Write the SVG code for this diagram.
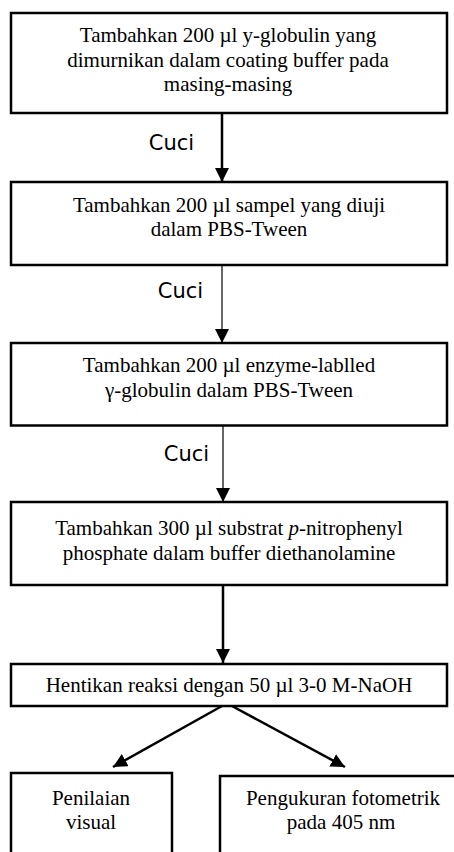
<svg xmlns="http://www.w3.org/2000/svg" width="454" height="852" viewBox="0 0 454 852">
  <defs>
    <marker id="ah" viewBox="0 0 14 14" refX="14" refY="7" markerWidth="14" markerHeight="14" markerUnits="userSpaceOnUse" orient="auto">
      <path d="M0,0 L14,7 L0,14 z" fill="#000"/>
    </marker>
    <style>
      .box { fill: #fff; stroke: #000; stroke-width: 2.5; }
      .t { font-family: "Liberation Serif", "Times New Roman", serif; font-size: 21px; fill: #000; text-anchor: middle; }
      .lbl { font-family: "DejaVu Sans", Verdana, sans-serif; font-size: 21px; fill: #000; text-anchor: middle; }
      .thick { stroke: #000; stroke-width: 2.5; fill: none; marker-end: url(#ah); }
      .thin { stroke: #000; stroke-width: 1.2; fill: none; marker-end: url(#ah); }
    </style>
  </defs>
  <rect width="454" height="852" fill="#fff"/>

  <g id="connectors">
    <line class="thick" x1="222" y1="113" x2="222" y2="182"/>
    <line class="thin" x1="222" y1="265" x2="222" y2="343"/>
    <line class="thin" x1="223" y1="425.5" x2="223" y2="502"/>
    <line class="thick" x1="223" y1="585" x2="223" y2="663"/>
    <line class="thick" x1="222" y1="706" x2="113" y2="767"/>
    <line class="thick" x1="232" y1="706" x2="345" y2="767"/>
    <text class="lbl" x="171.5" y="150">Cuci</text>
    <text class="lbl" x="180.5" y="298">Cuci</text>
    <text class="lbl" x="186.5" y="461">Cuci</text>
  </g>

  <g id="node1">
    <rect class="box" x="11" y="13" width="436" height="100"/>
    <text class="t" x="228" y="42">Tambahkan 200 µl y-globulin yang</text>
    <text class="t" x="228" y="66.5">dimurnikan dalam coating buffer pada</text>
    <text class="t" x="228" y="91">masing-masing</text>
  </g>

  <g id="node2">
    <rect class="box" x="11" y="182" width="436" height="83"/>
    <text class="t" x="229" y="212">Tambahkan 200 µl sampel yang diuji</text>
    <text class="t" x="229" y="236">dalam PBS-Tween</text>
  </g>

  <g id="node3">
    <rect class="box" x="11" y="343" width="436" height="82.5"/>
    <text class="t" x="229" y="372">Tambahkan 200 µl enzyme-lablled</text>
    <text class="t" x="229" y="397">γ-globulin dalam PBS-Tween</text>
  </g>

  <g id="node4">
    <rect class="box" x="11" y="502" width="436" height="83"/>
    <text class="t" x="229" y="535">Tambahkan 300 µl substrat <tspan font-style="italic">p</tspan>-nitrophenyl</text>
    <text class="t" x="229" y="560">phosphate dalam buffer diethanolamine</text>
  </g>

  <g id="node5">
    <rect class="box" x="11" y="664" width="436" height="42"/>
    <text class="t" x="229" y="692">Hentikan reaksi dengan 50 µl 3-0 M-NaOH</text>
  </g>

  <g id="node6">
    <rect class="box" x="11" y="773" width="161" height="90"/>
    <text class="t" x="91" y="805">Penilaian</text>
    <text class="t" x="91" y="829">visual</text>
  </g>

  <g id="node7">
    <rect class="box" x="220" y="776" width="240" height="90"/>
    <text class="t" x="343" y="805">Pengukuran fotometrik</text>
    <text class="t" x="341" y="829">pada 405 nm</text>
  </g>
</svg>
